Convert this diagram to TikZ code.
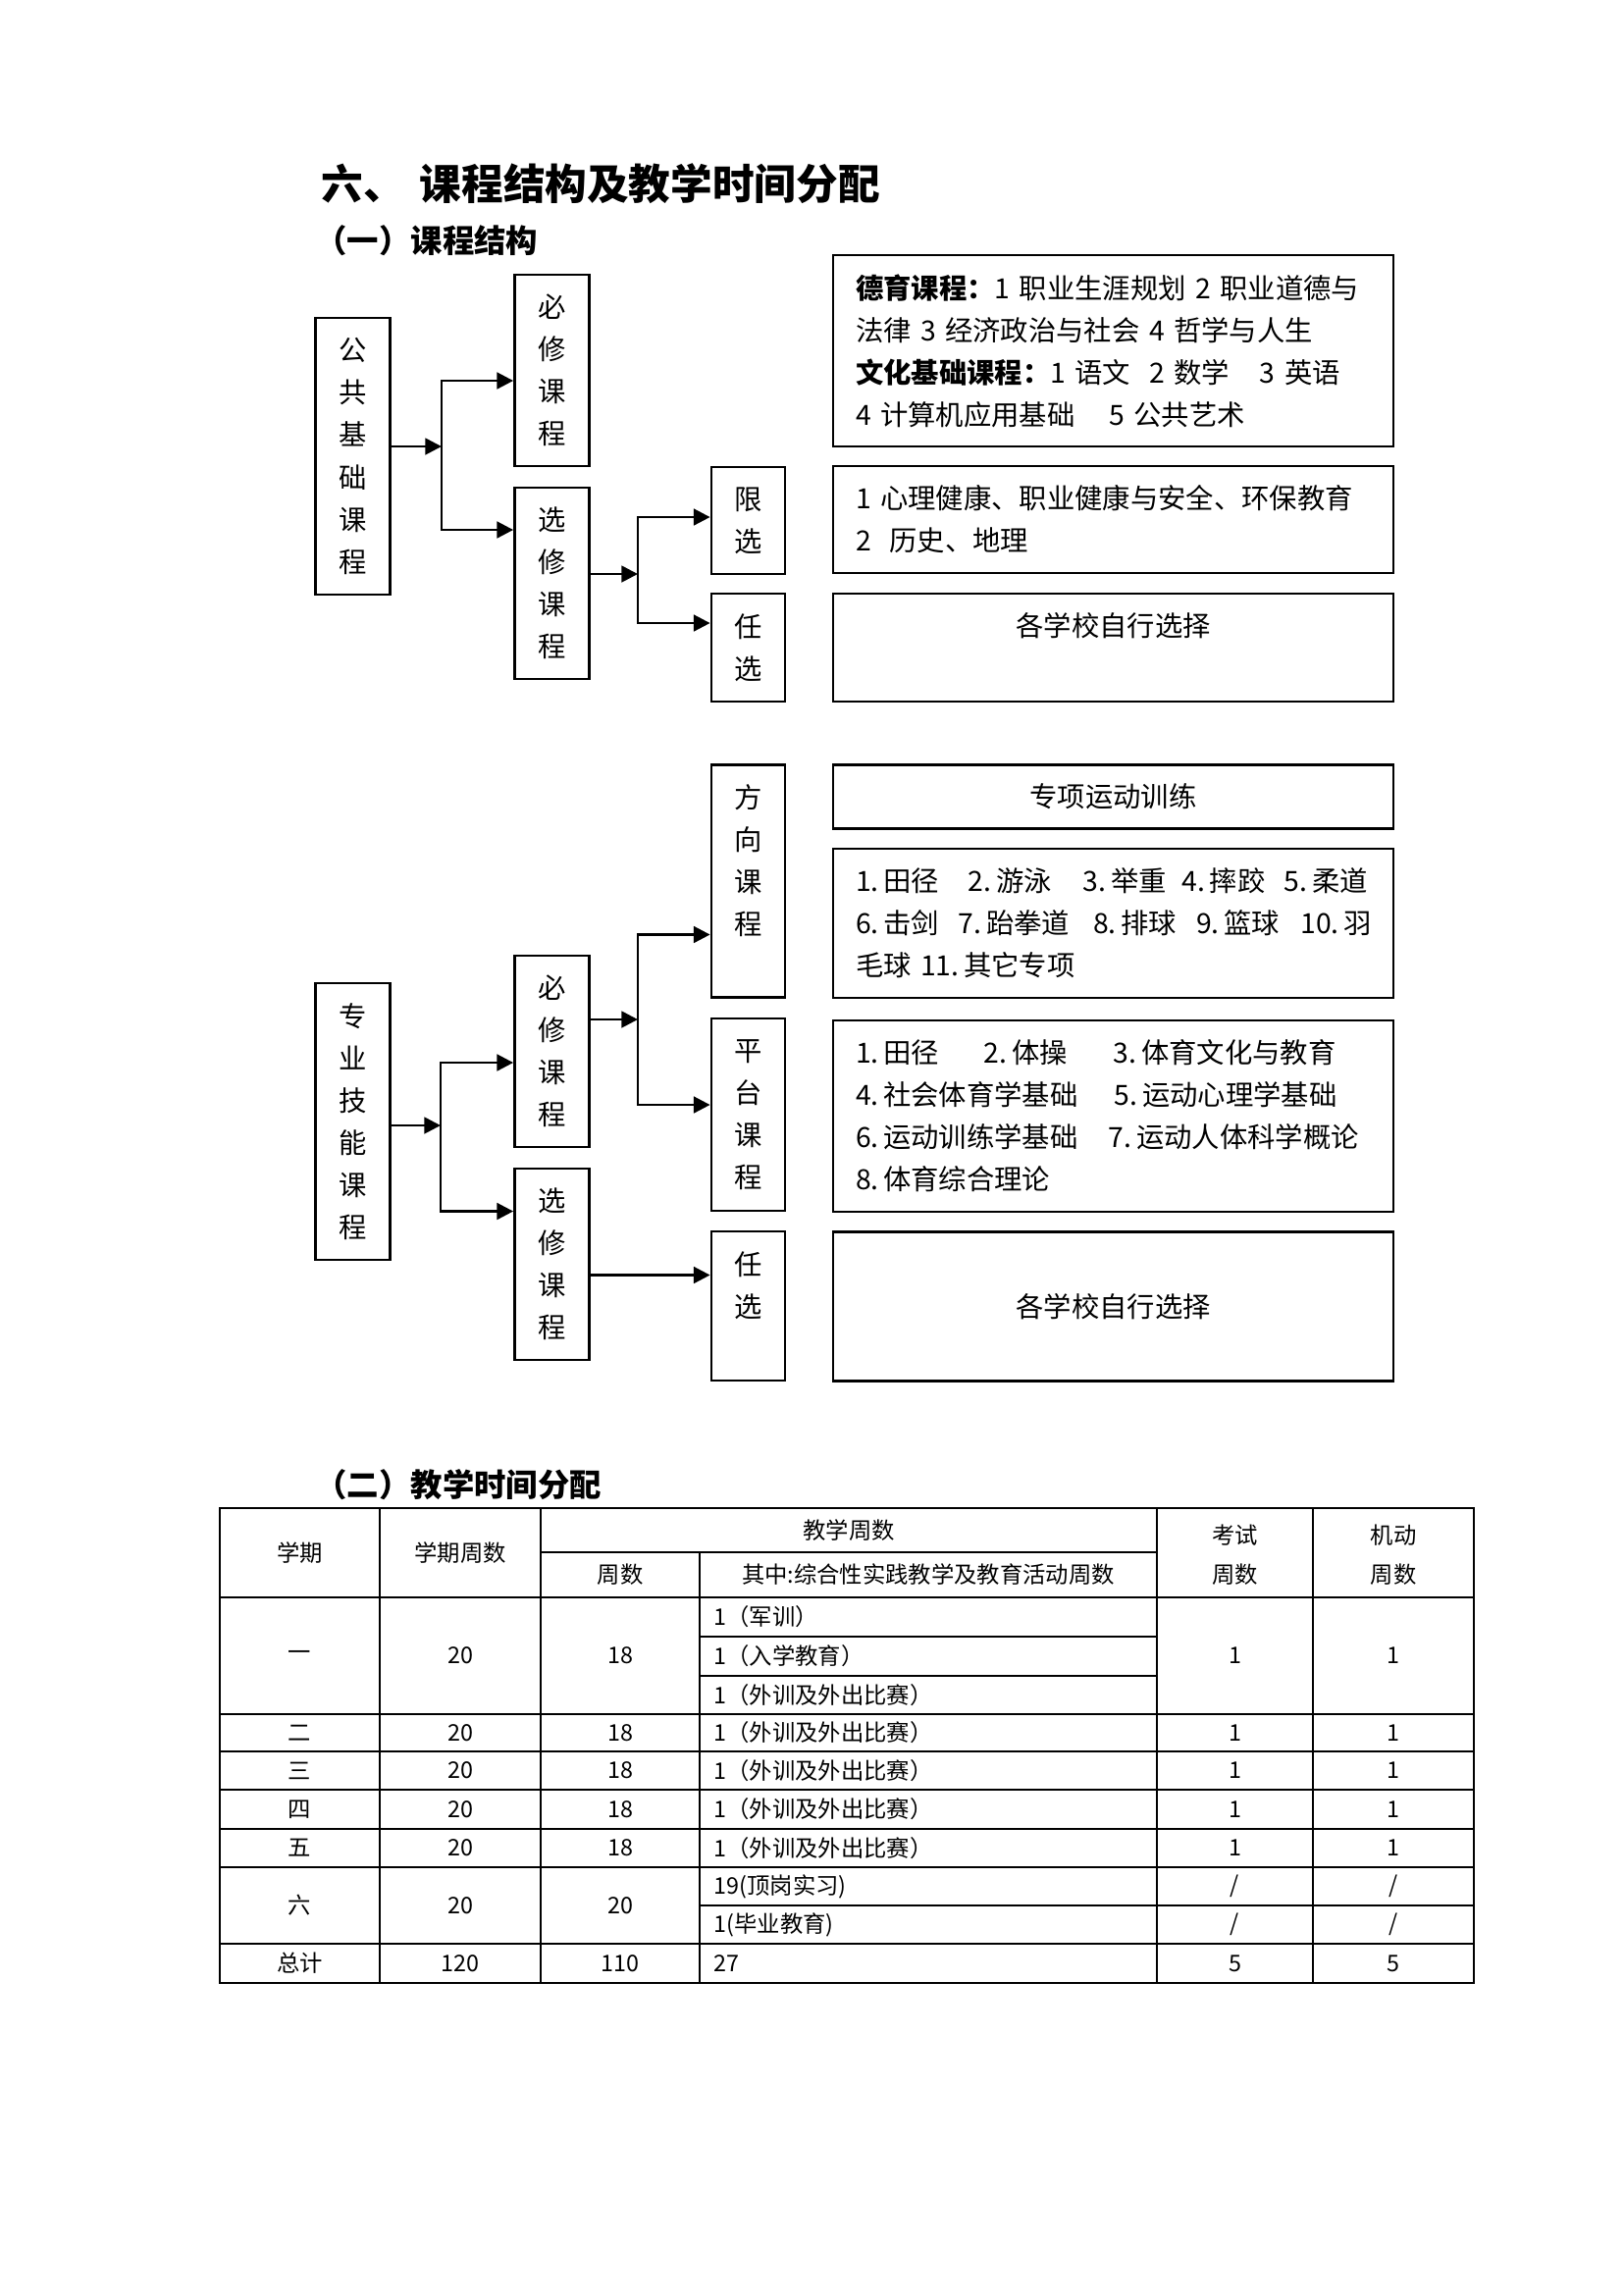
\documentclass[tikz,border=0pt]{standalone}
\usepackage{fontspec}
\setmainfont{Noto Sans CJK SC}
\usetikzlibrary{arrows.meta}

\newdimen\upx \upx=0.36pt
\newcommand{\chartfont}{\fontsize{10.2pt}{15.5pt}\selectfont}
\newcommand{\tablefont}{\fontsize{8.4pt}{14.4pt}\selectfont}
\newcommand{\headfont}{\fontsize{15.35pt}{18pt}\selectfont\bfseries}
\newcommand{\subfont}{\fontsize{11.65pt}{14pt}\selectfont\bfseries}
\newcommand{\iw}[2]{\makebox[#1\upx][l]{#2}}

\tikzset{
  vbox/.style={draw, line width=1pt, inner sep=0pt, minimum width=76*\upx, align=center, font=\chartfont},
  tbox/.style={draw, line width=1pt, inner xsep=23*\upx, inner ysep=0pt, minimum width=571*\upx,
               text width=525*\upx, align=left, font=\chartfont},
  cbox/.style={tbox, align=center},
  vtxt/.style={align=center, font=\chartfont, inner sep=0pt},
  arr/.style={line width=1pt, -{Triangle[length=6pt,width=6pt]}},
  arrs/.style={line width=1pt, line join=miter, {Triangle[length=6pt,width=6pt]}-{Triangle[length=6pt,width=6pt]}},
  tline/.style={line width=0.55pt},
  tc/.style={font=\tablefont, inner sep=0pt, align=center},
  ttl/.style={anchor=west, inner sep=0pt}
}

\begin{document}
\begin{tikzpicture}[x=0.36pt, y=-0.36pt]
  \fill[white] (0,0) rectangle (1654,2339);
  \useasboundingbox (0,0) rectangle (1654,2339);

  % headings
  \node[ttl, font=\headfont] (title) at (327,187) {六、\hspace{15\upx}课程结构及教学时间分配};
  \node[ttl, font=\subfont] (sec1) at (321,245) {（一）课程结构};

  % public basic courses
  \node[vbox, minimum height=282*\upx] (ggjc) at (359.5,465) {公\\共\\基\\础\\课\\程};
  \node[vbox, minimum height=195*\upx] (bx1) at (562.5,377.5) {必\\修\\课\\程};
  \node[vbox, minimum height=195*\upx] (xx1) at (562.5,594.5) {选\\修\\课\\程};
  \node[vbox, minimum width=75*\upx, minimum height=109*\upx] (xianx) at (762.5,530.5) {限\\选};
  \node[vbox, minimum width=75*\upx, minimum height=110*\upx] (renx1) at (762.5,660) {任\\选};

  \node[tbox, minimum height=195*\upx] (dyk) at (1134.5,357.5)
    {{\bfseries 德育课程：}1 职业生涯规划 2 职业道德与\\
     法律 3 经济政治与社会 4 哲学与人生\\
     {\bfseries 文化基础课程：}1 语文~ 2 数学\hspace{31\upx}3 英语\\
     4 计算机应用基础\hspace{35\upx}5 公共艺术};
  \node[tbox, minimum height=109*\upx] (xlk) at (1134.5,529.5)
    {1 心理健康、职业健康与安全、环保教育\\
     2~~历史、地理};
  \node[cbox, minimum height=110*\upx, label={[vtxt, yshift=22*\upx]center:各学校自行选择}] (zx1) at (1134.5,660) {};

  \coordinate (j1) at (450,455);
  \coordinate (j1a) at (450,388);
  \coordinate (j1b) at (450,540);
  \draw[arr] (ggjc.east |- j1) -- (j1);
  \draw[arrs] (bx1.west |- j1a) -- (j1a) -- (j1b) -- (xx1.west |- j1b);

  \coordinate (j2) at (650,585);
  \coordinate (j2a) at (650,527);
  \coordinate (j2b) at (650,635);
  \draw[arr] (xx1.east |- j2) -- (j2);
  \draw[arrs] (xianx.west |- j2a) -- (j2a) -- (j2b) -- (renx1.west |- j2b);

  % professional skill courses
  \node[vbox, minimum height=282*\upx] (zyjn) at (359.5,1143) {专\\业\\技\\能\\课\\程};
  \node[vbox, minimum height=195*\upx] (bx2) at (562.5,1071.5) {必\\修\\课\\程};
  \node[vbox, minimum height=195*\upx] (xx2) at (562.5,1288.5) {选\\修\\课\\程};
  \node[vbox, minimum width=75*\upx, minimum height=237.5*\upx,
        label={[vtxt, yshift=21*\upx]center:方\\向\\课\\程}] (fxkc) at (762.5,898) {};
  \node[vbox, minimum width=75*\upx, minimum height=196*\upx] (ptkc) at (762.5,1136) {平\\台\\课\\程};
  \node[vbox, minimum width=75*\upx, minimum height=152*\upx,
        label={[vtxt, yshift=21*\upx]center:任\\选}] (renx2) at (762.5,1331) {};

  \node[cbox, minimum height=65*\upx] (zxyd) at (1134.5,812) {专项运动训练};
  \node[tbox, minimum height=152*\upx] (tjk) at (1134.5,941)
    {\iw{115}{1.\,田径}\iw{117}{2.\,游泳}\iw{100.6}{3.\,举重}\iw{104.4}{4.\,摔跤}5.\,柔道\\
     \iw{105}{6.\,击剑}\iw{137}{7.\,跆拳道}\iw{105}{8.\,排球}\iw{106.5}{9.\,篮球}10.\,羽\\
     毛球 11.\,其它专项};
  \node[tbox, minimum height=195*\upx] (ptk) at (1134.5,1137.5)
    {\iw{131}{1.\,田径}\iw{132}{2.\,体操}3.\,体育文化与教育\\
     \iw{264}{4.\,社会体育学基础}5.\,运动心理学基础\\
     \iw{258}{6.\,运动训练学基础}7.\,运动人体科学概论\\
     8.\,体育综合理论};
  \node[cbox, minimum height=151.5*\upx] (zx2) at (1134.5,1331.5) {各学校自行选择};

  \coordinate (j3) at (449,1147);
  \coordinate (j3a) at (449,1083);
  \coordinate (j3b) at (449,1234.5);
  \draw[arr] (zyjn.east |- j3) -- (j3);
  \draw[arrs] (bx2.west |- j3a) -- (j3a) -- (j3b) -- (xx2.west |- j3b);

  \coordinate (j4) at (650,1039);
  \coordinate (j4a) at (650,952.5);
  \coordinate (j4b) at (650,1126);
  \draw[arr] (bx2.east |- j4) -- (j4);
  \draw[arrs] (fxkc.west |- j4a) -- (j4a) -- (j4b) -- (ptkc.west |- j4b);

  \coordinate (j5) at (650,1299.5);
  \draw[arr] (xx2.east |- j5) -- (renx2.west |- j5);

  % teaching time table
  \node[ttl, font=\subfont] (sec2) at (321,1513) {（二）教学时间分配};

  \draw[tline] (224,1537) rectangle (1502,2021);
  \draw[tline] (224,1628) -- (1502,1628);
  \draw[tline] (224,1747) -- (1502,1747);
  \draw[tline] (224,1785) -- (1502,1785);
  \draw[tline] (224,1824) -- (1502,1824);
  \draw[tline] (224,1864) -- (1502,1864);
  \draw[tline] (224,1903) -- (1502,1903);
  \draw[tline] (224,1981) -- (1502,1981);
  \draw[tline] (551,1582) -- (1179,1582);
  \draw[tline] (713,1668) -- (1179,1668);
  \draw[tline] (713,1708) -- (1179,1708);
  \draw[tline] (713,1942) -- (1502,1942);
  \draw[tline] (387,1537) -- (387,2021);
  \draw[tline] (551,1537) -- (551,2021);
  \draw[tline] (713,1582) -- (713,2021);
  \draw[tline] (1179,1537) -- (1179,2021);
  \draw[tline] (1338,1537) -- (1338,2021);

  \node[tc] (hxq) at (305.5,1583) {学期};
  \node[tc] (hzsa) at (469,1583) {学期周数};
  \node[tc] (hjx) at (865,1560) {教学周数};
  \node[tc] (hzsb) at (632,1605) {周数};
  \node[tc] (hqz) at (946,1605) {其中:综合性实践教学及教育活动周数};
  \node[tc] (hks) at (1258.5,1585) {考试\\周数};
  \node[tc] (hjd) at (1420,1585) {机动\\周数};

  \node[tc] (r1a) at (305.5,1687.5) {一};
  \node[tc] (r1b) at (469,1687.5) {20};
  \node[tc] (r1c) at (632,1687.5) {18};
  \node[tc, anchor=west] (r1d) at (727,1648) {1（军训）};
  \node[tc, anchor=west] (r1e) at (727,1688) {1（入学教育）};
  \node[tc, anchor=west] (r1f) at (727,1727.5) {1（外训及外出比赛）};
  \node[tc] (r1g) at (1258.5,1687.5) {1};
  \node[tc] (r1h) at (1420,1687.5) {1};

  \node[tc] (r2a) at (305.5,1766) {二};
  \node[tc] (r2b) at (469,1766) {20};
  \node[tc] (r2c) at (632,1766) {18};
  \node[tc, anchor=west] (r2d) at (727,1766) {1（外训及外出比赛）};
  \node[tc] (r2e) at (1258.5,1766) {1};
  \node[tc] (r2f) at (1420,1766) {1};

  \node[tc] (r3a) at (305.5,1804.5) {三};
  \node[tc] (r3b) at (469,1804.5) {20};
  \node[tc] (r3c) at (632,1804.5) {18};
  \node[tc, anchor=west] (r3d) at (727,1804.5) {1（外训及外出比赛）};
  \node[tc] (r3e) at (1258.5,1804.5) {1};
  \node[tc] (r3f) at (1420,1804.5) {1};

  \node[tc] (r4a) at (305.5,1844) {四};
  \node[tc] (r4b) at (469,1844) {20};
  \node[tc] (r4c) at (632,1844) {18};
  \node[tc, anchor=west] (r4d) at (727,1844) {1（外训及外出比赛）};
  \node[tc] (r4e) at (1258.5,1844) {1};
  \node[tc] (r4f) at (1420,1844) {1};

  \node[tc] (r5a) at (305.5,1883.5) {五};
  \node[tc] (r5b) at (469,1883.5) {20};
  \node[tc] (r5c) at (632,1883.5) {18};
  \node[tc, anchor=west] (r5d) at (727,1883.5) {1（外训及外出比赛）};
  \node[tc] (r5e) at (1258.5,1883.5) {1};
  \node[tc] (r5f) at (1420,1883.5) {1};

  \node[tc] (r6a) at (305.5,1942) {六};
  \node[tc] (r6b) at (469,1942) {20};
  \node[tc] (r6c) at (632,1942) {20};
  \node[tc, anchor=west] (r6d) at (727,1922.5) {19(顶岗实习)};
  \node[tc, anchor=west] (r6e) at (727,1961.5) {1(毕业教育)};
  \node[tc] (r6f) at (1258.5,1922.5) {/};
  \node[tc] (r6g) at (1420,1922.5) {/};
  \node[tc] (r6h) at (1258.5,1961.5) {/};
  \node[tc] (r6i) at (1420,1961.5) {/};

  \node[tc] (r7a) at (305.5,2001) {总计};
  \node[tc] (r7b) at (469,2001) {120};
  \node[tc] (r7c) at (632,2001) {110};
  \node[tc, anchor=west] (r7d) at (727,2001) {27};
  \node[tc] (r7e) at (1258.5,2001) {5};
  \node[tc] (r7f) at (1420,2001) {5};
\end{tikzpicture}
\end{document}
